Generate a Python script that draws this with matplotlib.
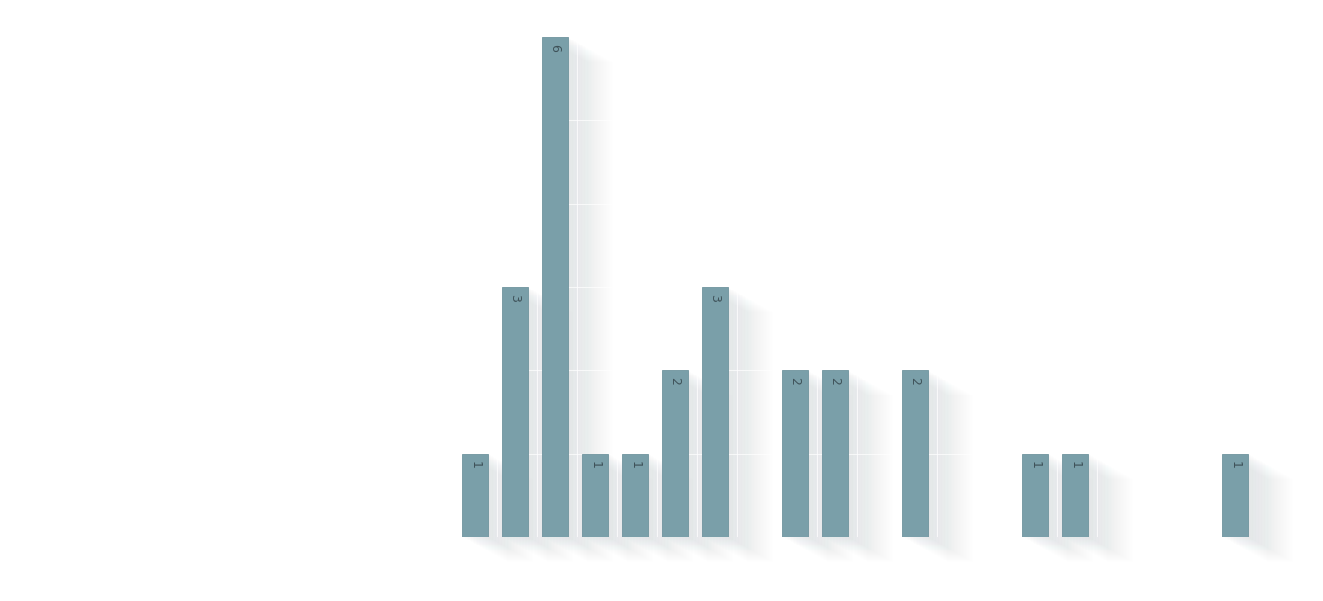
import numpy as np
import matplotlib
matplotlib.use("Agg")
import matplotlib.pyplot as plt
import matplotlib.transforms as mtransforms
from matplotlib.patches import Rectangle

# data
categories = list(range(20))
values = [1, 3, 6, 1, 1, 2, 3, 0, 2, 2, 0, 2, 0, 0, 1, 1, 0, 0, 0, 1]

bar_color = '#7a9fa9'
label_color = '#3f5259'
shadow_color = '#c3ccd1'
W, H = 1323, 601

fig = plt.figure(figsize=(W / 100, H / 100), dpi=100)
ax = fig.add_axes([455 / W, (H - 537) / H, 800 / W, 500 / H])
ax.set_xlim(-0.5, len(categories) - 0.5)
ax.set_ylim(0, 6)

x = np.arange(len(categories))
wid = 0.65

# long diagonal shadow: stacked offset copies of every bar, fading out
nsteps = 30
sdx, sdy = 45.0, 25.0
for i, v in zip(x, values):
    if v <= 0:
        continue
    for k in range(1, nsteps + 1):
        off = mtransforms.Affine2D().translate(sdx * k / nsteps, -sdy * k / nsteps)
        a = 0.03 * (1 - 0.75 * (k - 1) / nsteps)
        r = Rectangle((i - wid / 2, 0), wid, v, facecolor=shadow_color,
                      edgecolor='none', alpha=a, zorder=1,
                      transform=ax.transData + off, clip_on=False)
        ax.add_patch(r)

# white grid, only visible over the shadows
for yy in range(0, 7):
    ax.axhline(yy, color='white', lw=0.8, alpha=0.7, zorder=2)
for xx in np.arange(-0.5, len(categories), 1.0):
    ax.axvline(xx + 0.05, color='white', lw=0.8, alpha=0.7, zorder=2)

bars = ax.bar(x, values, width=wid, color=bar_color, edgecolor='#6f949e',
              linewidth=0.6, zorder=3)

for i, v in zip(x, values):
    if v <= 0:
        continue
    ax.annotate(str(v), (i, v), xytext=(0, -5), textcoords='offset points',
                ha='center', va='top', rotation=-90, fontsize=9,
                color=label_color, zorder=4)

for s in ax.spines.values():
    s.set_visible(False)
ax.set_xticks([])
ax.set_yticks([])
ax.patch.set_alpha(0)

fig.savefig('out.png', dpi=100)
